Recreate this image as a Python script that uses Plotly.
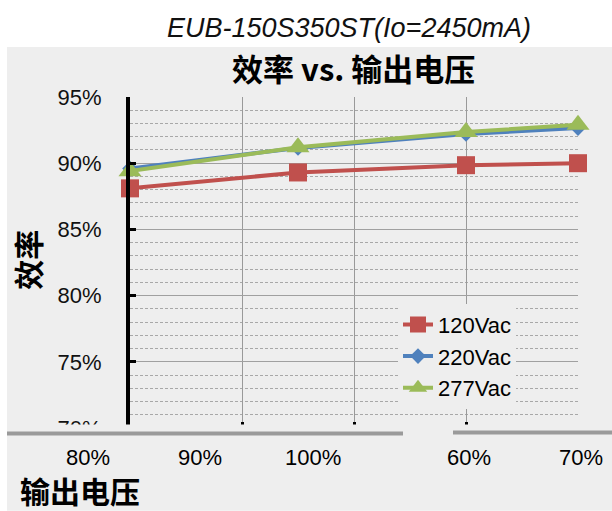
import plotly.graph_objects as go

# ---- data ----
x_pos = [0, 1.5, 3, 4]
series_names = ["120Vac", "220Vac", "277Vac"]
eff_120 = [88.1, 89.3, 89.85, 90.0]
eff_220 = [89.6, 91.15, 92.2, 92.65]
eff_277 = [89.4, 91.2, 92.35, 92.9]
y_tickvals = [70, 75, 80, 85, 90, 95]
y_ticktext = ["70%", "75%", "80%", "85%", "90%", "95%"]
x_labels = ["80%", "90%", "100%", "60%", "70%"]

# ---- layout geometry (pixels) ----
W, H = 612, 511
L, R, T, B = 130, 578, 97, 428.5
x_label_px = [88, 200, 313, 469, 581]


def px(xp):
    return (xp - L) / (R - L)


def py(yp):
    return (B - yp) / (B - T)


BG = "#eeeeee"
colors = ["#C0504D", "#4F81BD", "#9BBB59"]
symbols = ["square", "diamond", "triangle-up"]
sizes = [18, 12, 20]
latin = "Liberation Sans, Arial, sans-serif"
cjk = "Noto Sans CJK SC, sans-serif"

fig = go.Figure()
for name, ys, c, s, sz in zip(series_names, [eff_120, eff_220, eff_277], colors, symbols, sizes):
    fig.add_trace(go.Scatter(
        x=x_pos, y=ys, name=name, mode="lines+markers",
        line=dict(color=c, width=4),
        marker=dict(symbol=s, size=sz, color=c),
        cliponaxis=False,
    ))

shapes = [
    # gray chart background
    dict(type="rect", xref="paper", yref="paper", x0=px(7), x1=px(612), y0=py(511), y1=py(47),
         fillcolor=BG, line=dict(width=0), layer="below"),
    # cover of the cut-off bottom
    dict(type="rect", xref="paper", yref="paper", x0=px(7), x1=px(612), y0=py(511), y1=py(425),
         fillcolor=BG, line=dict(width=0), layer="above"),
    # gray band
    dict(type="rect", xref="paper", yref="paper", x0=px(7), x1=px(403), y0=py(436), y1=py(432),
         fillcolor="#9a9a9a", line=dict(width=0), layer="above"),
    dict(type="rect", xref="paper", yref="paper", x0=px(453), x1=px(612), y0=py(435), y1=py(431),
         fillcolor="#9a9a9a", line=dict(width=0), layer="above"),
]

annotations = [
    dict(text="EUB-150S350ST(Io=2450mA)", xref="paper", yref="paper", x=px(349), y=py(28),
         showarrow=False, font=dict(family=latin, size=27, color="#111111", style="italic"),
         xanchor="center", yanchor="middle"),
    dict(text="<b>效率 vs. 输出电压</b>", xref="paper", yref="paper", x=px(353), y=py(67),
         showarrow=False, font=dict(family=cjk, size=31, color="#000000"),
         xanchor="center", yanchor="middle"),
    dict(text="<b>效率</b>", xref="paper", yref="paper", x=px(27), y=py(260), textangle=-90,
         showarrow=False, font=dict(family=cjk, size=30, color="#000000"),
         xanchor="center", yanchor="middle"),
    dict(text="<b>输出电压</b>", xref="paper", yref="paper", x=px(18), y=py(491),
         showarrow=False, font=dict(family=cjk, size=30, color="#000000"),
         xanchor="left", yanchor="middle"),
]
for lab, xp in zip(x_labels, x_label_px):
    annotations.append(dict(text=lab, xref="paper", yref="paper", x=px(xp), y=py(458),
                            showarrow=False, font=dict(family=latin, size=22, color="#000000"),
                            xanchor="center", yanchor="middle"))

fig.update_layout(
    width=W, height=H,
    margin=dict(l=L, r=W - R, t=T, b=H - B, pad=0),
    paper_bgcolor="white", plot_bgcolor=BG,
    font=dict(family=latin, size=22, color="#000000"),
    xaxis=dict(range=[0, 4], dtick=1, tick0=0, showgrid=True, gridcolor="#999999", gridwidth=1,
               showticklabels=False, ticks="inside", ticklen=6, tickwidth=3, tickcolor="black",
               showline=False, zeroline=False, fixedrange=True),
    yaxis=dict(range=[70, 95], tickvals=y_tickvals, ticktext=y_ticktext,
               showgrid=True, gridcolor="#a0a0a0", gridwidth=1,
               minor=dict(dtick=1, tick0=70, showgrid=True, gridcolor="#a8a8a8", griddash="3px,2px", gridwidth=1),
               showline=True, linecolor="black", linewidth=4,
               ticks="inside", ticklen=6, tickwidth=3, tickcolor="black",
               ticklabelstandoff=20, tickfont=dict(family=latin, size=22, color="#111111"),
               zeroline=False, fixedrange=True),
    legend=dict(x=px(398), y=py(304), xanchor="left", yanchor="top", bgcolor=BG,
                font=dict(family=latin, size=22, color="#000000"), tracegroupgap=0,
                itemwidth=30),
    showlegend=True,
    shapes=shapes,
    annotations=annotations,
)

fig.write_html("out.html", config={"displayModeBar": False},
               post_script="document.body.style.margin='0';document.body.style.padding='0';")
